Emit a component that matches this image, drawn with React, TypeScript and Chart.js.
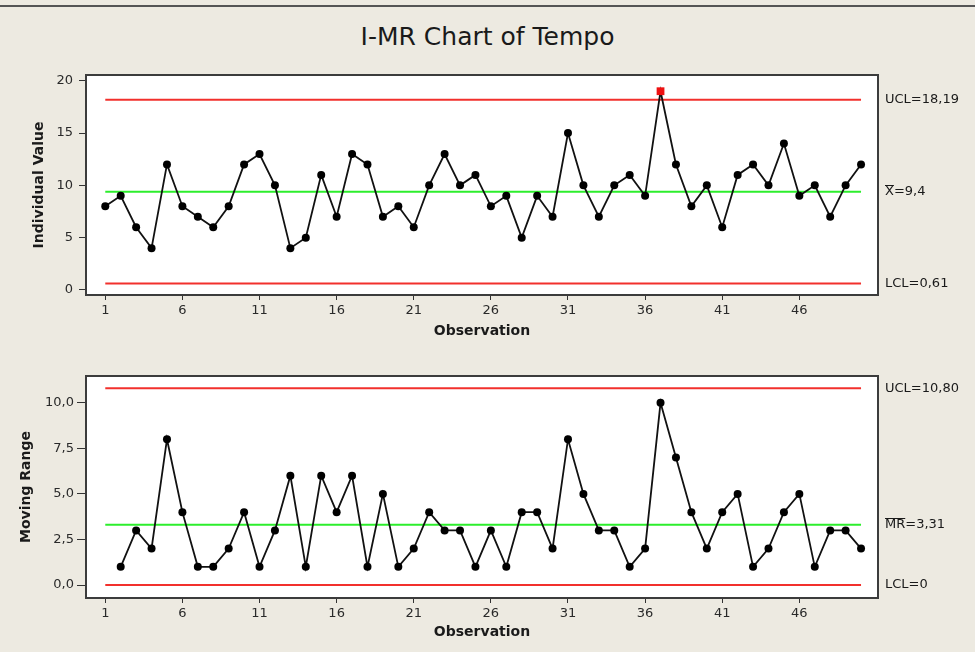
import React, { useEffect, useRef } from 'react';
import { Chart, registerables } from 'chart.js';

Chart.register(...registerables);

// ---------- data ----------
const individualValues = [
  8, 9, 6, 4, 12, 8, 7, 6, 8, 12,
  13, 10, 4, 5, 11, 7, 13, 12, 7, 8,
  6, 10, 13, 10, 11, 8, 9, 5, 9, 7,
  15, 10, 7, 10, 11, 9, 19, 12, 8, 10,
  6, 11, 12, 10, 14, 9, 10, 7, 10, 12,
];
// moving ranges start at observation 2
const movingRanges = [
  1, 3, 2, 8, 4, 1, 1, 2, 4,
  1, 3, 6, 1, 6, 4, 6, 1, 5, 1,
  2, 4, 3, 3, 1, 3, 1, 4, 4, 2,
  8, 5, 3, 3, 1, 2, 10, 7, 4, 2,
  4, 5, 1, 2, 4, 5, 1, 3, 3, 2,
];
const iLimitValues = [18.19, 9.4, 0.61]; // UCL, mean, LCL
const iLimitTexts = ['UCL=18,19', 'X=9,4', 'LCL=0,61'];
const iLimitOverline = ['', 'X', ''];
const mrLimitValues = [10.8, 3.31, 0]; // UCL, mean, LCL
const mrLimitTexts = ['UCL=10,80', 'MR=3,31', 'LCL=0'];
const mrLimitOverline = ['', 'MR', ''];
const xTickLabels = [1, 6, 11, 16, 21, 26, 31, 36, 41, 46];
const iTickValues = [0, 5, 10, 15, 20];
const mrTickValues = [0, 2.5, 5, 7.5, 10];
const firstObs = 1;
const lastObs = 50;

const FONT = 'DejaVu Sans';
const RED = '#f2302c';
const GREEN = '#2cee2c';

const framePlugin = {
  id: 'imrFrame',
  beforeDatasetsDraw(chart: any) {
    const { ctx, chartArea: a } = chart;
    ctx.save();
    ctx.fillStyle = '#ffffff';
    ctx.fillRect(a.left, a.top, a.right - a.left, a.bottom - a.top);
    ctx.restore();
  },
  afterDraw(chart: any, _args: any, opts: any) {
    const { ctx, chartArea: a } = chart;
    ctx.save();
    ctx.strokeStyle = '#3c3c3c';
    ctx.lineWidth = 2;
    ctx.strokeRect(a.left, a.top, a.right - a.left, a.bottom - a.top);
    const y = chart.scales.y;
    ctx.font = `13px "${FONT}"`;
    ctx.fillStyle = '#1a1a1a';
    ctx.textBaseline = 'middle';
    ctx.textAlign = 'left';
    const x0 = a.right + 7;
    (opts.values || []).forEach((v: number, i: number) => {
      const py = y.getPixelForValue(v);
      ctx.fillText(opts.texts[i], x0, py);
      const ov = opts.overline[i];
      if (ov) {
        const w = ctx.measureText(ov).width;
        ctx.strokeStyle = '#1a1a1a';
        ctx.lineWidth = 1;
        ctx.beginPath();
        ctx.moveTo(x0, Math.round(py - 7) + 0.5);
        ctx.lineTo(x0 + w, Math.round(py - 7) + 0.5);
        ctx.stroke();
      }
    });
    ctx.restore();
  },
};

function limitDataset(v: number, color: string) {
  return {
    data: [{ x: firstObs, y: v }, { x: lastObs, y: v }],
    borderColor: color,
    borderWidth: 2,
    pointRadius: 0,
    order: 2,
  };
}

function makeConfig(p: any) {
  const ucl = p.limits[0];
  const series = p.values.map((v: number, i: number) => ({ x: p.startObs + i, y: v }));
  const flagged = p.values.map((v: number) => v > ucl);
  return {
    type: 'line',
    data: {
      datasets: [
        {
          data: series,
          borderColor: '#111',
          borderWidth: 1.8,
          pointRadius: flagged.map((f: boolean) => (f ? 5.5 : 4)),
          pointStyle: flagged.map((f: boolean) => (f ? 'rect' : 'circle')),
          pointBackgroundColor: flagged.map((f: boolean) => (f ? '#ee1111' : '#000')),
          pointBorderColor: flagged.map((f: boolean) => (f ? '#ee1111' : '#000')),
          pointBorderWidth: 0,
          order: 1,
        },
        limitDataset(p.limits[0], RED),
        limitDataset(p.limits[1], GREEN),
        limitDataset(p.limits[2], RED),
      ],
    },
    options: {
      animation: false,
      responsive: false,
      devicePixelRatio: 1,
      layout: { padding: { top: p.padTop, right: 97, left: 0, bottom: 0 } },
      plugins: {
        legend: { display: false },
        tooltip: { enabled: false },
        imrFrame: { values: p.limits, texts: p.limitTexts, overline: p.overline },
      },
      scales: {
        x: {
          type: 'linear',
          min: -0.25,
          max: 51.1,
          afterBuildTicks: (s: any) => {
            s.ticks = xTickLabels.map((v) => ({ value: v }));
          },
          afterFit: (s: any) => {
            s.height = p.xAxisHeight;
          },
          grid: { drawOnChartArea: false, drawTicks: true, tickLength: 5, color: '#333' },
          border: { display: false },
          ticks: {
            autoSkip: false,
            maxRotation: 0,
            padding: 3,
            color: '#2a2a2a',
            font: { family: FONT, size: 13 },
            callback: (_v: any, i: number) => String(xTickLabels[i]),
          },
          title: {
            display: true,
            text: 'Observation',
            color: '#1a1a1a',
            font: { family: FONT, size: 14, weight: 'bold' },
            padding: { top: 0, bottom: p.xTitlePad },
          },
        },
        y: {
          type: 'linear',
          min: p.yMin,
          max: p.yMax,
          afterBuildTicks: (s: any) => {
            s.ticks = p.yTicks.map((v: number) => ({ value: v }));
          },
          afterFit: (s: any) => {
            s.width = 86;
          },
          grid: { drawOnChartArea: false, drawTicks: true, tickLength: p.yTickLen, color: '#333' },
          border: { display: false },
          ticks: {
            autoSkip: false,
            padding: p.yTickPad,
            color: '#2a2a2a',
            font: { family: FONT, size: 13 },
            callback: p.yFormat,
          },
          title: {
            display: true,
            text: p.yTitle,
            color: '#1a1a1a',
            font: { family: FONT, size: 14, weight: 'bold' },
            padding: { top: p.yTitlePad, bottom: 0 },
          },
        },
      },
    },
    plugins: [framePlugin],
  };
}

export default function App() {
  const topRef = useRef<HTMLCanvasElement>(null);
  const botRef = useRef<HTMLCanvasElement>(null);

  useEffect(() => {
    const c1 = new Chart(
      topRef.current as any,
      makeConfig({
        values: individualValues,
        startObs: 1,
        limits: iLimitValues,
        limitTexts: iLimitTexts,
        overline: iLimitOverline,
        padTop: 15,
        xAxisHeight: 55,
        xTitlePad: 10,
        yMin: -0.48,
        yMax: 20.55,
        yTicks: iTickValues,
        yTickLen: 7,
        yTickPad: 6,
        yTitle: 'Individual Value',
        yTitlePad: 31,
        yFormat: (v: number) => String(v),
      }) as any
    );
    const c2 = new Chart(
      botRef.current as any,
      makeConfig({
        values: movingRanges,
        startObs: 2,
        limits: mrLimitValues,
        limitTexts: mrLimitTexts,
        overline: mrLimitOverline,
        padTop: 16,
        xAxisHeight: 54,
        xTitlePad: 11,
        yMin: -0.71,
        yMax: 11.47,
        yTicks: mrTickValues,
        yTickLen: 9,
        yTickPad: 3,
        yTitle: 'Moving Range',
        yTitlePad: 18,
        yFormat: (v: number) => v.toFixed(1).replace('.', ','),
      }) as any
    );
    return () => {
      c1.destroy();
      c2.destroy();
    };
  }, []);

  return (
    <div
      style={{
        position: 'fixed',
        left: 0,
        top: 0,
        width: 975,
        height: 652,
        background: '#edeae1',
        overflow: 'hidden',
      }}
    >
      <div style={{ position: 'absolute', left: 0, top: 5, width: 975, height: 2, background: '#555' }} />
      <div
        style={{
          position: 'absolute',
          left: 0,
          top: 23,
          width: 975,
          textAlign: 'center',
          fontFamily: FONT,
          fontSize: 25,
          lineHeight: '28px',
          color: '#1a1a1a',
        }}
      >
        I-MR Chart of Tempo
      </div>
      <canvas
        ref={topRef}
        width={975}
        height={290}
        style={{ position: 'absolute', left: 0, top: 60, width: 975, height: 290 }}
      />
      <canvas
        ref={botRef}
        width={975}
        height={292}
        style={{ position: 'absolute', left: 0, top: 360, width: 975, height: 292 }}
      />
    </div>
  );
}
